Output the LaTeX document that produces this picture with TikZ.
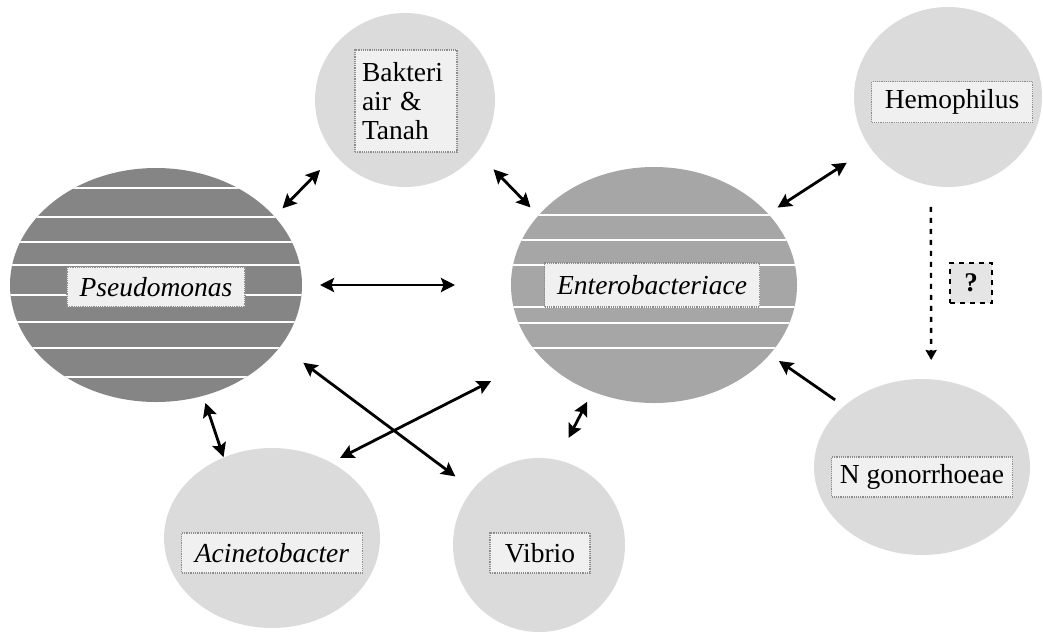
\documentclass[tikz,border=0pt]{standalone}
\usepackage{fontspec}
\setmainfont{Liberation Serif}
\usetikzlibrary{shapes.geometric,arrows.meta}
\definecolor{darkfill}{gray}{0.52}
\definecolor{midfill}{gray}{0.65}
\definecolor{lightfill}{gray}{0.86}
\definecolor{boxfill}{gray}{0.94}
\tikzset{
  blob/.style={ellipse, inner sep=0pt, outer sep=0pt},
  lbl/.style={rectangle, fill=boxfill, draw=black!45, densely dotted, line width=1.2pt,
              inner sep=0pt, font=\fontsize{27.5}{29}\selectfont},
  tipa/.tip={Stealth[length=14pt,width=14pt,inset=2.5pt]},
  link/.style={line width=2.8pt, tipa-tipa},
  onelink/.style={line width=2.8pt, -tipa},
  dotlink/.style={line width=2.4pt, dash pattern=on 5pt off 6pt, -{Stealth[length=10pt,width=11pt,inset=1pt]}},
  qbox/.style={rectangle, fill=black!10, draw=black, line width=2.2pt, dash pattern=on 5pt off 5pt,
               inner sep=0pt, font=\fontsize{27}{28}\selectfont\bfseries}
}
\begin{document}
\begin{tikzpicture}[x=1pt,y=-1pt]
\useasboundingbox (0,0) rectangle (1043,633);

% ellipses
\node[blob, fill=darkfill, minimum width=292pt, minimum height=234pt] (P) at (156,285) {};
\node[blob, fill=midfill, minimum width=286pt, minimum height=236pt] (E) at (654,285) {};
\node[blob, fill=lightfill, minimum width=180pt, minimum height=174pt] (B) at (405,100) {};
\node[blob, fill=lightfill, minimum width=188pt, minimum height=180pt] (H) at (948,97) {};
\node[blob, fill=lightfill, minimum width=216pt, minimum height=176pt] (N) at (922,467) {};
\node[blob, fill=lightfill, minimum width=216pt, minimum height=180pt] (A) at (272,538) {};
\node[blob, fill=lightfill, minimum width=172pt, minimum height=174pt] (V) at (539,545) {};

% white stripes
\begin{scope}
  \clip (156,285) ellipse [x radius=146pt, y radius=117pt];
  \foreach \yy in {188,217,242,265,295,322,348,377}
    \draw[white, line width=1.6pt] (0,\yy) -- (320,\yy);
\end{scope}
\begin{scope}
  \clip (654,285) ellipse [x radius=143pt, y radius=118pt];
  \foreach \yy in {215,240,265,307,323,348}
    \draw[white, line width=1.6pt] (500,\yy) -- (810,\yy);
\end{scope}

% labels
\node[lbl, minimum width=178pt, minimum height=40pt] (Pl) at (156,287) {\itshape Pseudomonas};
\node[lbl, minimum width=215pt, minimum height=44pt] (El) at (652,285) {\itshape Enterobacteriace};
\node[lbl, text width=88pt, inner sep=7pt, minimum height=102pt, align=left] (Bl) at (406,101) {Bakteri\\air~\&\\Tanah};
\node[lbl, minimum width=161pt, minimum height=41pt] (Hl) at (952,102) {Hemophilus};
\node[lbl, minimum width=181pt, minimum height=40pt] (Nl) at (922,477) {N gonorrhoeae};
\node[lbl, minimum width=181pt, minimum height=40pt] (Al) at (272,553) {\itshape Acinetobacter};
\node[lbl, minimum width=100pt, minimum height=40pt] (Vl) at (540,553) {Vibrio};
\node[qbox, minimum width=42pt, minimum height=40pt] (Q) at (971,283) {?};

% connectors
\draw[link, shorten <=11.4pt, shorten >=21.4pt] (P.30.3) -- (B.218.1);
\draw[link, shorten <=23.8pt, shorten >=11.3pt] (B.-36.6) -- (E.149.3);
\draw[link, shorten <=18pt, shorten >=56pt] (P.0) -- (E.180);
\draw[link, shorten <=11.4pt, shorten >=27.9pt] (E.32.4) -- (H.213.5);
\draw[onelink, shorten <=10.9pt, shorten >=11.4pt] (N.142) -- (E.-31.7);
\draw[dotlink, shorten <=21.5pt, shorten >=19.3pt] (H.259.1) -- (N.84.1);
\draw[link, shorten <=7.5pt, shorten >=0.4pt] (P.-67.2) -- (A.121.2);
\draw[link, shorten <=28.1pt, shorten >=21.7pt] (P.-26.1) -- (V.140.5);
\draw[link, shorten <=10.2pt, shorten >=54.9pt] (A.52) -- (E.212.7);
\draw[link, shorten <=24.8pt, shorten >=11.5pt] (V.78.8) -- (E.240.5);
\end{tikzpicture}
\end{document}
